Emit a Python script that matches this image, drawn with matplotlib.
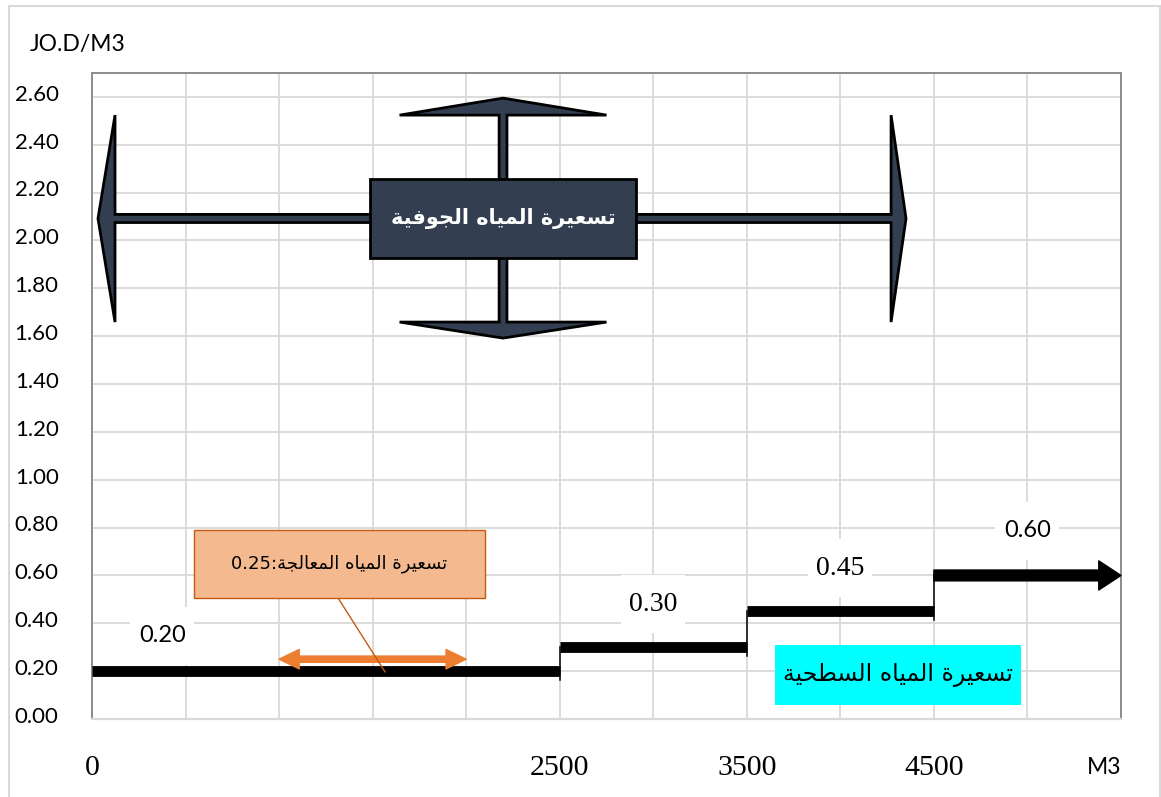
import numpy as np
import matplotlib
matplotlib.use("Agg")
import matplotlib.pyplot as plt
from matplotlib.patches import Rectangle, Polygon, FancyArrowPatch
from matplotlib.transforms import ScaledTranslation

# Surface-water tariff: consumption bands (m3) and price per m3 (JOD)
band_edges = [0, 2500, 3500, 4500, 5500]
band_prices = [0.20, 0.30, 0.45, 0.60]
band_labels = ["0.20", "0.30", "0.45", "0.60"]

# Treated water tariff and the consumption span its arrow covers
treated_price = 0.25
treated_span = [1000, 2000]

x_tick_values = [0, 2500, 3500, 4500]
x_tick_labels = ["0", "2500", "3500", "4500"]
y_tick_values = [round(0.2 * i, 2) for i in range(14)]

y_unit = "JO.D/M3"
x_unit = "M3"
ground_title = "تسعيرة المياه الجوفية"
surface_title = "تسعيرة المياه السطحية"
treated_title = "تسعيرة المياه المعالجة"

# ---- minimal Arabic shaping (presentation forms) for right-to-left display
FORMS = {  # isolated, final, initial, medial
    "ا": ("\uFE8D", "\uFE8E", None, None),
    "ة": ("\uFE93", "\uFE94", None, None),
    "ت": ("\uFE95", "\uFE96", "\uFE97", "\uFE98"),
    "ج": ("\uFE9D", "\uFE9E", "\uFE9F", "\uFEA0"),
    "ح": ("\uFEA1", "\uFEA2", "\uFEA3", "\uFEA4"),
    "ر": ("\uFEAD", "\uFEAE", None, None),
    "س": ("\uFEB1", "\uFEB2", "\uFEB3", "\uFEB4"),
    "ط": ("\uFEC1", "\uFEC2", "\uFEC3", "\uFEC4"),
    "ع": ("\uFEC9", "\uFECA", "\uFECB", "\uFECC"),
    "ف": ("\uFED1", "\uFED2", "\uFED3", "\uFED4"),
    "ل": ("\uFEDD", "\uFEDE", "\uFEDF", "\uFEE0"),
    "م": ("\uFEE1", "\uFEE2", "\uFEE3", "\uFEE4"),
    "ه": ("\uFEE9", "\uFEEA", "\uFEEB", "\uFEEC"),
    "و": ("\uFEED", "\uFEEE", None, None),
    "ي": ("\uFEF1", "\uFEF2", "\uFEF3", "\uFEF4"),
}


def rtl(text):
    out = []
    for i, c in enumerate(text):
        if c not in FORMS:
            out.append(c)
            continue
        prev = text[i - 1] if i > 0 else None
        nxt = text[i + 1] if i + 1 < len(text) else None
        join_prev = prev in FORMS and FORMS[prev][2] is not None
        join_next = nxt in FORMS and FORMS[c][2] is not None
        iso, fin, ini, med = FORMS[c]
        if join_prev and join_next:
            out.append(med)
        elif join_prev:
            out.append(fin)
        elif join_next:
            out.append(ini)
        else:
            out.append(iso)
    return "".join(out)[::-1]


SANS = ["Lato", "DejaVu Sans"]
SERIF = ["Liberation Serif", "DejaVu Serif"]
ARABIC = ["DejaVu Sans"]

W, H = 1161, 797
fig = plt.figure(figsize=(W / 100, H / 100), dpi=100)
ax = fig.add_axes([92 / W, 78 / H, 1029 / W, 646 / H])

# light frame around the whole chart
fig.patches.append(Rectangle((9 / W, -0.02), (1160 - 9) / W, 1 - 6 / H + 0.02,
                             transform=fig.transFigure, fill=False,
                             edgecolor="#D9D9D9", lw=1.5, zorder=0))

ax.set_xlim(band_edges[0], band_edges[-1])
ax.set_ylim(0, 2.7)

grid_x = np.arange(band_edges[0], band_edges[-1] + 1, 500)
ax.set_xticks(grid_x)
ax.set_xticklabels([x_tick_labels[x_tick_values.index(v)] if v in x_tick_values else ""
                    for v in grid_x], family=SERIF, fontsize=21.5)
ax.set_yticks(y_tick_values)
ax.set_yticklabels([f"{v:.2f}" for v in y_tick_values], family=SANS, fontsize=16)
ax.tick_params(axis="x", length=0, pad=26)
ax.tick_params(axis="y", length=0, pad=24)
lift = ScaledTranslation(0, 3 / 72, fig.dpi_scale_trans)
for lbl in ax.get_yticklabels():
    lbl.set_transform(lbl.get_transform() + lift)
ax.grid(True, color="#D9D9D9", lw=1.3, zorder=0)
ax.set_axisbelow(True)
for side in ("top", "left", "right"):
    ax.spines[side].set_color("#8C8C8C")
    ax.spines[side].set_linewidth(1.4)
ax.spines["bottom"].set_color("#D9D9D9")
ax.spines["bottom"].set_linewidth(1.6)

fig.text(30 / W, 1 - 45 / H, y_unit, family=SANS, fontsize=16.5, va="center", ha="left")
ax.text(1.0, -48 / 646, x_unit, transform=ax.transAxes, family=SANS, fontsize=16.5,
        ha="right", va="center")

# ---- stepped surface-water tariff
step_lw = 7.8
for i, price in enumerate(band_prices[:-1]):
    ax.plot([band_edges[i], band_edges[i + 1]], [price, price], color="black",
            lw=step_lw, solid_capstyle="butt", zorder=5)
for i in range(1, len(band_prices)):
    ax.plot([band_edges[i], band_edges[i]], [band_prices[i], band_prices[i - 1] - 0.035],
            color="black", lw=1.1, zorder=5)
ax.add_patch(FancyArrowPatch((band_edges[-2], band_prices[-1]), (band_edges[-1], band_prices[-1]),
                             arrowstyle="simple,tail_width=0.78,head_width=2.1,head_length=1.6",
                             mutation_scale=10, color="black", shrinkA=0, shrinkB=0,
                             clip_on=False, zorder=6))

# value labels on white boxes
label_x = [375, 3000, 4000, 5000]
label_dy = [0.147, 0.18, 0.18, 0.186]
label_fonts = [SANS, SERIF, SERIF, SANS]
label_sizes = [17, 20, 20, 17]
bw, bh = 64 / 0.18709, 58 / 239.26
for lx, price, dy, txt, fam, fs in zip(label_x, band_prices, label_dy, band_labels,
                                       label_fonts, label_sizes):
    ax.add_patch(Rectangle((lx - bw / 2, price + dy - bh / 2), bw, bh,
                           facecolor="white", edgecolor="none", zorder=3))
    ax.text(lx, price + dy, txt, ha="center", va="center", family=fam, fontsize=fs, zorder=4)

# ---- surface water caption
ax.add_patch(Rectangle((3650, 0.058), 1315, 0.25, facecolor="#00FFFF",
                       edgecolor="none", zorder=6))
ax.text(3650 + 1315 / 2, 0.058 + 0.125, rtl(surface_title), ha="center", va="center",
        family=ARABIC, fontsize=17, zorder=7)

# ---- treated water callout
orange = "#ED7D31"
mid = sum(treated_span) / 2
for end in treated_span:
    ax.add_patch(FancyArrowPatch((mid, treated_price), (end, treated_price),
                                 arrowstyle="simple,tail_width=0.45,head_width=1.4,head_length=1.45",
                                 mutation_scale=10, color=orange, shrinkA=0, shrinkB=0,
                                 zorder=7))
ax.plot([1315, 1566], [0.506, 0.197], color="#C55A11", lw=1.0, zorder=8)
ax.add_patch(Rectangle((545, 0.506), 1556, 0.284, facecolor="#F4B98F",
                       edgecolor="#C55A11", lw=1.0, zorder=8))
ax.text(545 + 1556 / 2, 0.506 + 0.142, f"{treated_price:.2f}:" + rtl(treated_title),
        ha="center", va="center", family=ARABIC, fontsize=13, zorder=9)

# ---- groundwater four-way arrow with its caption box
navy = "#333F50"
cx, cy = 2197, 2.092
hx, hy = 21, 0.017
h_arrow = [(32, cy), (123, 2.524), (123, cy + hy), (4271, cy + hy), (4271, 2.524),
           (4351, cy), (4271, 1.659), (4271, cy - hy), (123, cy - hy), (123, 1.659)]
v_arrow = [(cx, 2.595), (cx + 553, 2.524), (cx + hx, 2.524), (cx + hx, 1.659),
           (cx + 553, 1.659), (cx, 1.592), (cx - 553, 1.659), (cx - hx, 1.659),
           (cx - hx, 2.524), (cx - 553, 2.524)]
for pts in (h_arrow, v_arrow):
    ax.add_patch(Polygon(pts, closed=True, facecolor=navy, edgecolor="black",
                         lw=2.0, joinstyle="miter", zorder=10))
ax.add_patch(Rectangle((1486, 1.927), 1422, 0.33, facecolor=navy, edgecolor="black",
                       lw=2.0, zorder=11))
ax.text(cx, cy, rtl(ground_title), ha="center", va="center", family=ARABIC,
        fontsize=15, fontweight="bold", color="white", zorder=12)

fig.savefig("out.png", dpi=100)
